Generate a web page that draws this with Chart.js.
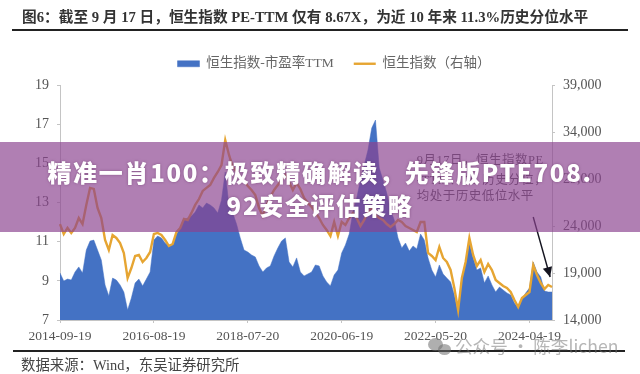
<!DOCTYPE html>
<html lang="zh">
<head>
<meta charset="utf-8">
<title>恒生指数 PE-TTM</title>
<script src="https://cdn.jsdelivr.net/npm/chart.js@4/dist/chart.umd.min.js"></script>
<style>
  html, body { margin: 0; padding: 0; background: #fff; }
  #page { position: relative; width: 640px; height: 374px; overflow: hidden; font-family: "Liberation Serif", "Noto Sans CJK SC", serif; }
  #soft { position: absolute; left: 0; top: 0; width: 640px; height: 374px; filter: blur(0.45px); }
  #grafico { position: absolute; left: 0; top: 0; }
  .titulo { position: absolute; left: 22px; top: 5px; font-size: 14.7px; font-weight: bold; color: #333; white-space: nowrap; }
  .regra { position: absolute; height: 2px; background: #222; }
  .fonte { position: absolute; left: 21px; top: 353px; font-size: 14.4px; color: #444; white-space: nowrap; }
  .faixa { position: absolute; left: 0; top: 142px; width: 640px; height: 90px; background: rgba(139, 67, 143, .68); }
  .manchete { position: absolute; left: 44px; top: 155px; width: 552px; text-align: center; word-break: break-all; color: #fff; letter-spacing: 1.7px; font: 900 24px/33px "Noto Sans CJK SC", sans-serif; text-shadow: 0 0 3px rgba(90, 40, 90, .5); }
  .marca { position: absolute; left: 455px; top: 333px; font: 17.6px "Noto Sans CJK SC", sans-serif; color: rgba(110, 110, 110, .5); white-space: nowrap; }
  .bolha { position: absolute; border-radius: 50%; background: rgba(110, 110, 110, .55); }
</style>
</head>
<body>
<div id="page">
  <div id="soft">
    <div class="titulo">图6：截至 9 月 17 日，恒生指数 PE-TTM 仅有 8.67X，为近 10 年来 11.3%历史分位水平</div>
    <div class="regra" style="left:12px;top:29px;width:616px"></div>
    <canvas id="grafico" width="640" height="374"></canvas>
    <div class="regra" style="left:13px;top:350px;width:612px"></div>
    <div class="fonte">数据来源：Wind，东吴证券研究所</div>
  </div>
  <div class="faixa"></div>
  <div class="manchete">精准一肖100：极致精确解读，先锋版PTE708.92安全评估策略</div>
  <div class="bolha" style="left:428px;top:338px;width:15px;height:13px"></div>
  <div class="bolha" style="left:438px;top:344px;width:13px;height:11px"></div>
  <div class="marca">公众号 · 陈李lichen</div>
</div>
<script>
const datas = [
  '2014-09-19','2014-10-17','2014-11-14','2014-12-12',
  '2015-01-09','2015-02-06','2015-03-06','2015-04-03','2015-05-01','2015-05-29','2015-06-26','2015-07-24','2015-08-21','2015-09-18','2015-10-16','2015-11-13','2015-12-11',
  '2016-01-08','2016-02-05','2016-03-04','2016-04-01','2016-04-29','2016-05-27','2016-06-24','2016-07-22','2016-08-19','2016-09-16','2016-10-14','2016-11-11','2016-12-09',
  '2017-01-06','2017-02-03','2017-03-03','2017-03-31','2017-04-28','2017-05-26','2017-06-23','2017-07-21','2017-08-18','2017-09-15','2017-10-13','2017-11-10','2017-12-08',
  '2018-01-05','2018-02-02','2018-03-02','2018-03-30','2018-04-27','2018-05-25','2018-06-22','2018-07-20','2018-08-17','2018-09-14','2018-10-12','2018-11-09','2018-12-07',
  '2019-01-04','2019-02-01','2019-03-01','2019-03-29','2019-04-26','2019-05-24','2019-06-21','2019-07-19','2019-08-16','2019-09-13','2019-10-11','2019-11-08','2019-12-06',
  '2020-01-03','2020-01-31','2020-02-28','2020-03-27','2020-04-24','2020-05-22','2020-06-19','2020-07-17','2020-08-14','2020-09-11','2020-10-09','2020-11-06','2020-12-04',
  '2021-01-01','2021-01-29','2021-02-26','2021-03-26','2021-04-23','2021-05-21','2021-06-18','2021-07-16','2021-08-13','2021-09-10','2021-10-08','2021-11-05','2021-12-03','2021-12-31',
  '2022-01-28','2022-02-25','2022-03-25','2022-04-22','2022-05-20','2022-06-17','2022-07-15','2022-08-12','2022-09-09','2022-10-07','2022-11-04','2022-12-02','2022-12-30',
  '2023-01-27','2023-02-24','2023-03-24','2023-04-21','2023-05-19','2023-06-16','2023-07-14','2023-08-11','2023-09-08','2023-10-06','2023-11-03','2023-12-01','2023-12-29',
  '2024-01-26','2024-02-23','2024-03-22','2024-04-19','2024-05-17','2024-06-14','2024-07-12','2024-08-09','2024-09-06','2024-09-17'
];
const datasEixo = ['2014-09-19','2016-08-19','2018-07-20','2020-06-19','2022-05-20','2024-04-19'];

// PE-TTM (eixo esquerdo)
const peTtm = [
  9.40,8.99,9.09,9.04,9.45,9.71,9.40,10.57,11.03,11.08,10.57,10.06,8.79,8.23,9.14,9.04,8.79,8.43,7.51,8.12,
  8.89,9.09,8.74,9.09,9.45,11.08,11.29,11.19,10.93,10.78,10.83,11.39,11.65,12.11,12.21,12.31,12.51,12.87,12.72,12.97,
  12.87,12.72,12.46,13.13,14.56,12.82,12.46,11.90,11.19,10.57,10.47,10.32,10.22,9.76,9.45,9.66,9.76,10.27,10.68,11.03,
  11.19,9.96,9.71,10.17,9.45,9.25,9.35,9.45,9.81,9.76,9.25,8.94,8.74,9.30,9.55,10.42,10.83,11.39,12.51,13.23,
  14.15,14.91,15.68,16.80,17.21,14.76,14.15,13.48,12.62,12.11,11.19,10.68,10.93,10.52,10.78,10.63,11.39,11.08,10.17,9.55,
  9.20,9.81,9.35,9.14,8.94,8.28,7.41,9.14,9.96,10.93,10.17,9.55,9.66,8.89,9.25,8.79,8.43,8.68,8.53,8.38,
  8.28,7.87,7.61,8.07,8.38,8.63,9.96,9.45,9.20,8.48,8.43,8.43
];
// Indice Hang Seng (eixo direito)
const hsi = [
  24200,23150,23790,23260,23790,24850,24210,26240,28050,27940,25920,24850,22510,21450,23040,22730,22190,21130,18470,19530,
  20810,20920,20170,20600,21240,23150,23260,23040,22510,21870,22090,23360,23790,24750,24640,25390,26240,26870,27730,28050,
  28360,29110,29750,30490,33150,31560,30280,29750,29220,28790,28260,27830,27300,25920,25070,26240,27090,27830,28360,28900,
  29430,28680,27830,28580,27940,26980,26450,26020,25490,24850,24110,23580,22940,24430,22940,24430,24110,24850,25390,24850,
  24000,24640,25490,25920,25170,24850,24640,24210,23900,24210,24640,24430,24000,23790,23580,23360,24430,24430,21130,20810,
  20380,21770,20600,20170,19320,17400,15060,18470,20170,22730,20920,19750,20380,19110,19960,19320,18260,17940,17620,17400,
  16980,16130,15380,16340,16660,16980,19850,18790,17940,17300,17720,17510
];

const nomes = ['恒生指数-市盈率TTM', '恒生指数（右轴）'];
const ticksEsq = [7, 9, 11, 13, 15, 17, 19];
const ticksDir = [14000, 19000, 24000, 29000, 34000, 39000];

// nota e seta, em valores dos eixos
const notaLinhas = ['9月17日，恒生指数PE', '-TTM、PB 历史分位，', '均处于历史低位水平'];
const notaPos = { indice: 95, hsi: [30900, 28790, 27090] };
const setaIni = { indice: 126, hsi: 24960 };
const setaFim = { indice: 130.5, hsi: 18575 };

const fonteSerif = '"Liberation Serif", "Noto Sans CJK SC", serif';

// legenda: altura fixa e um pouco deslocada para a direita, como na figura
const legendaPlugin = {
  id: 'ajusteLegenda',
  beforeLayout(chart) {
    const l = chart.legend;
    if (l._fitOrig) return;
    l._fitOrig = l.fit;
    l.fit = function () { l._fitOrig.call(l); l.height = 48; };
  },
  afterLayout(chart) { chart.legend.left += 28; }
};

const notaPlugin = {
  id: 'nota',
  afterDatasetsDraw(chart) {
    const { ctx, scales } = chart;
    ctx.save();
    ctx.fillStyle = '#555';
    ctx.font = '12.5px ' + fonteSerif;
    ctx.letterSpacing = '0.5px';
    ctx.textAlign = 'left';
    notaLinhas.forEach((t, i) => ctx.fillText(t, scales.x.getPixelForValue(notaPos.indice), scales.y2.getPixelForValue(notaPos.hsi[i])));
    const x1 = scales.x.getPixelForValue(setaIni.indice), y1 = scales.y2.getPixelForValue(setaIni.hsi);
    const x2 = scales.x.getPixelForValue(setaFim.indice), y2 = scales.y2.getPixelForValue(setaFim.hsi);
    ctx.strokeStyle = '#14141f';
    ctx.lineWidth = 1.4;
    ctx.beginPath();
    ctx.moveTo(x1, y1);
    ctx.lineTo(x2, y2);
    ctx.stroke();
    const a = Math.atan2(y2 - y1, x2 - x1);
    ctx.fillStyle = '#14141f';
    ctx.beginPath();
    ctx.moveTo(x2, y2);
    ctx.lineTo(x2 - 11 * Math.cos(a - 0.45), y2 - 11 * Math.sin(a - 0.45));
    ctx.lineTo(x2 - 11 * Math.cos(a + 0.45), y2 - 11 * Math.sin(a + 0.45));
    ctx.closePath();
    ctx.fill();
    ctx.restore();
  }
};

new Chart(document.getElementById('grafico').getContext('2d'), {
  type: 'line',
  data: {
    labels: datas,
    datasets: [
      { label: nomes[0], data: peTtm, yAxisID: 'y', order: 2, fill: 'start', tension: 0,
        backgroundColor: '#4472c4', borderColor: '#4472c4', borderWidth: 0.5, pointRadius: 0, pointStyle: 'rect' },
      { label: nomes[1], data: hsi, yAxisID: 'y2', order: 1, fill: false, tension: 0,
        backgroundColor: '#e6a532', borderColor: '#e6a532', borderWidth: 2.4, pointRadius: 0, pointStyle: 'line' }
    ]
  },
  options: {
    responsive: false,
    animation: false,
    layout: { padding: { top: 37, left: 0, right: 0, bottom: 0 } },
    plugins: {
      tooltip: { enabled: false },
      legend: {
        position: 'top',
        labels: {
          usePointStyle: true, pointStyleWidth: 22, boxHeight: 6, padding: 20, color: '#666',
          font: { family: fonteSerif, size: 13.5 },
          sort: (a, b) => a.datasetIndex - b.datasetIndex
        }
      }
    },
    scales: {
      x: {
        offset: false,
        afterFit: s => { s.height = 54; },
        border: { color: '#c4c4c4' },
        grid: { drawOnChartArea: false, drawTicks: true, tickLength: 3, color: '#c4c4c4' },
        ticks: {
          autoSkip: false, maxRotation: 0, minRotation: 0, padding: 5, color: '#555',
          font: { family: fonteSerif, size: 13.5 },
          callback(v) { const d = datas[v]; return datasEixo.includes(d) ? d : null; }
        }
      },
      y: {
        position: 'left', min: 7, max: 19,
        afterFit: s => { s.width = 60; },
        afterBuildTicks: s => { s.ticks = ticksEsq.map(value => ({ value })); },
        border: { color: '#c4c4c4' },
        grid: { drawOnChartArea: false, tickLength: 3, color: '#c4c4c4' },
        ticks: { padding: 8, color: '#555', font: { family: fonteSerif, size: 14 } }
      },
      y2: {
        position: 'right', min: 14000, max: 39000,
        afterFit: s => { s.width = 88; },
        afterBuildTicks: s => { s.ticks = ticksDir.map(value => ({ value })); },
        border: { color: '#c4c4c4' },
        grid: { drawOnChartArea: false, tickLength: 3, color: '#c4c4c4' },
        ticks: { padding: 8, color: '#555', font: { family: fonteSerif, size: 14 },
          callback: v => v.toLocaleString('en-US') }
      }
    }
  },
  plugins: [legendaPlugin, notaPlugin]
});
</script>
</body>
</html>
